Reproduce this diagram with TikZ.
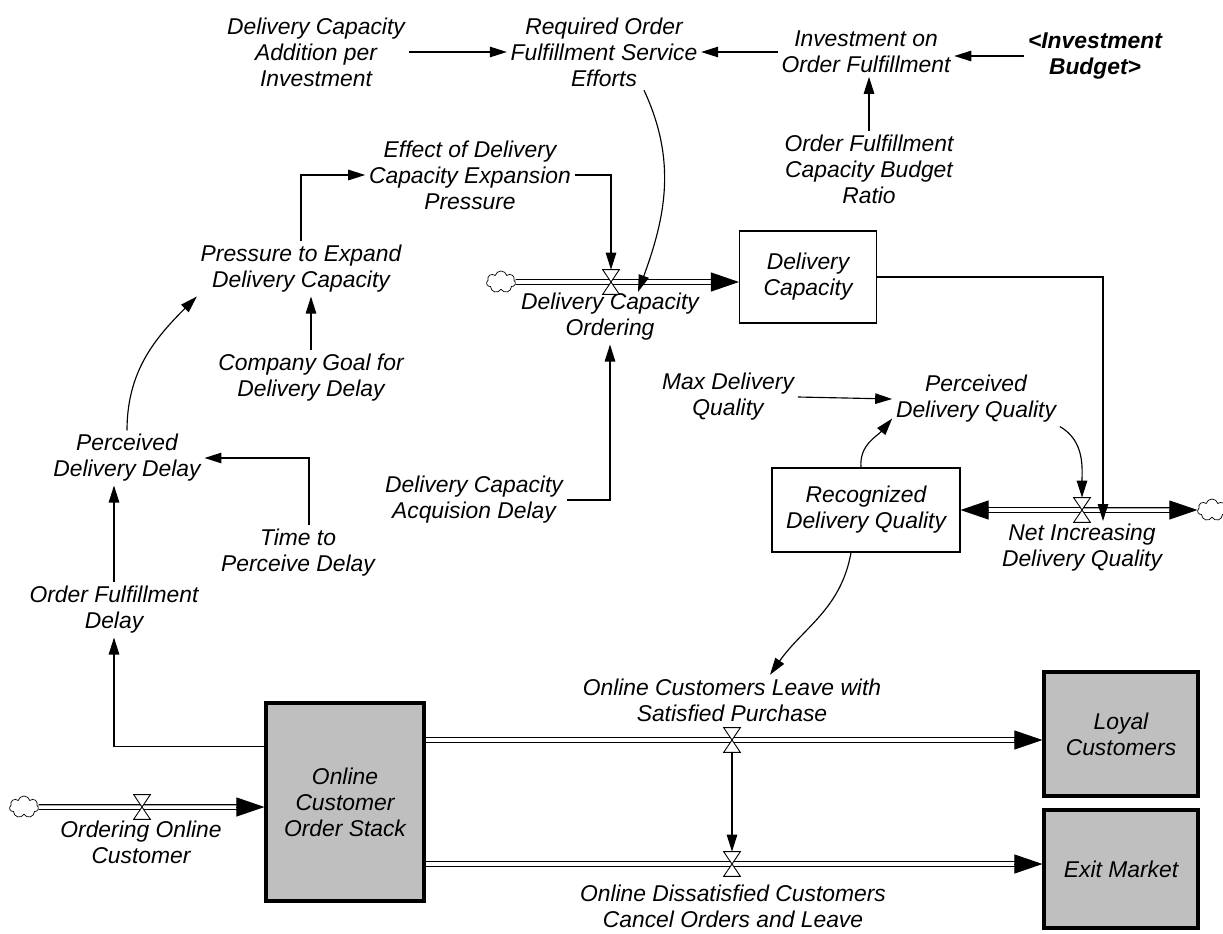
\documentclass[tikz,border=0pt]{standalone}
\usepackage{fontspec}
\setmainfont{Liberation Sans}
\usepackage{tikz}
\usetikzlibrary{arrows.meta,shapes.symbols,calc}

\newcommand\flowpipe[2]{%
	\draw[pipe,shorten >=0.5cm] (#1) -- (#2);
	\draw[pipehead] ($(#2)!0.56cm!(#1)$) -- (#2);}

\begin{document}
\begin{tikzpicture}[x=0.02cm,y=-0.02cm,
	font=\itshape\fontsize{13}{14.8}\selectfont,
	var/.style={align=center,inner sep=2pt},
	link/.style={line width=0.65pt,-{Triangle[length=0.34cm,width=0.21cm]}},
	levelbox/.style={draw,line width=0.65pt,align=center,inner sep=2pt},
	stockbox/.style={levelbox,fill=black!25,line width=1.8pt},
	pipe/.style={double,double distance=2pt,line width=0.65pt},
	pipehead/.style={line width=0.5pt,-{Triangle[length=0.56cm,width=0.38cm]}},
	src/.style={cloud,draw,cloud puffs=7,aspect=1.3,minimum width=0.58cm,minimum height=0.44cm,inner sep=0pt,line width=0.4pt,fill=white},
	valvebox/.style={minimum width=0.32cm,minimum height=0.48cm,inner sep=0pt}]
	\useasboundingbox (0,0) rectangle (1223,933);

	\node[var] (dcapi) at (316,52) {Delivery Capacity\\Addition per\\Investment};
	\node[var] (rofse) at (604,52) {Required Order\\Fulfillment Service\\Efforts};
	\node[var] (ioof) at (866,52) {Investment on\\Order Fulfillment};
	\node[var,font=\bfseries\itshape\fontsize{13}{14.8}\selectfont] (budget) at (1095,56) {<Investment\\Budget>};
	\node[var] (ofcbr) at (869,169) {Order Fulfillment\\Capacity Budget\\Ratio};
	\node[var] (edcep) at (470,175) {Effect of Delivery\\Capacity Expansion\\Pressure};
	\node[var] (pedc) at (301,269) {Pressure to Expand\\Delivery Capacity};
	\node[var] (cgdd) at (311,378) {Company Goal for\\Delivery Delay};
	\node[var] (pdd) at (127,458) {Perceived\\Delivery Delay};
	\node[var] (tpd) at (298,553) {Time to\\Perceive Delay};
	\node[var] (ofd) at (114,610) {Order Fulfillment\\Delay};
	\node[var] (dcad) at (474,500) {Delivery Capacity\\Acquision Delay};
	\node[var] (mdq) at (728,397) {Max Delivery\\Quality};
	\node[var] (pdq) at (976,399) {Perceived\\Delivery Quality};

	\node[levelbox,minimum width=2.74cm,minimum height=1.84cm] (dc) at (808,277) {Delivery\\Capacity};
	\node[levelbox,minimum width=3.76cm,minimum height=1.68cm] (rdq) at (866,510) {Recognized\\Delivery Quality};
	\node[stockbox,minimum width=3.16cm,minimum height=3.96cm] (stack) at (345,802) {Online\\Customer\\Order Stack};
	\node[stockbox,minimum width=3.08cm,minimum height=2.48cm] (loyal) at (1121,734) {Loyal\\Customers};
	\node[stockbox,minimum width=3.08cm,minimum height=2.36cm] (exit) at (1121,869) {Exit Market};

	\node[src] (c1) at (501,282) {};
	\node[src] (c2) at (1212,510) {};
	\node[src] (c3) at (24,807) {};

	\node[valvebox] (dco) at (611,282) {};
	\node[valvebox] (ndq) at (1082,510) {};
	\node[valvebox] (ooc) at (142,807) {};
	\node[valvebox] (ocl) at (732,740) {};
	\node[valvebox] (odc) at (732,864) {};

	\node[var] (dcolab) at (610,317) {Delivery Capacity\\Ordering};
	\node[var] (ndqlab) at (1082,548) {Net Increasing\\Delivery Quality};
	\node[var] (ooclab) at (141,842) {Ordering Online\\Customer};
	\node[var] (ocllab) at (732,700) {Online Customers Leave with\\Satisfied Purchase};
	\node[var] (odclab) at (733,906) {Online Dissatisfied Customers\\Cancel Orders and Leave};

	\flowpipe{c1}{c1 -| dc.west}
	\flowpipe{ndq.center}{rdq.east}
	\flowpipe{ndq.center}{c2.west}
	\flowpipe{c3}{c3 -| stack.west}
	\flowpipe{stack.east |- ocl}{ocl -| loyal.west}
	\flowpipe{stack.east |- odc}{odc -| exit.west}
	\foreach \v in {dco,ndq,ooc,ocl,odc}
		\draw[fill=white,line width=0.5pt] (\v.north west) -- (\v.north east) -- (\v.south west) -- (\v.south east) -- cycle;

	\draw[link] (dcapi.east) -- (rofse.west);
	\draw[link] (ioof.west) -- (rofse.east);
	\draw[link] (budget.west) -- (budget.west -| ioof.east);
	\draw[link] (ofcbr.north) -- (ofcbr.north |- ioof.south);
	\draw[link] ($(rofse.south)+(40,0)$) to[out=-65,in=70] ($(dco)+(27,10)$);
	\draw[link] (edcep.east) -| (dco.north);
	\draw[link] (pedc.north) |- (edcep.west);
	\draw[link] (cgdd.north) -- (cgdd.north |- pedc.south);
	\draw[link] (pdd.north) to[out=90,in=-135] (pedc.south west);
	\draw[link] ($(tpd.north)+(11,0)$) |- (pdd.east);
	\draw[link] (ofd.north) -- (ofd.north |- pdd.south);
	\draw[link] ($(stack.north west)+(0,45)$) -| (ofd.south);
	\draw[link] (dcad.east) -| (dcolab.south);
	\draw[link] (dc.east) -| ($(ndq)+(21,11)$);
	\draw[link] (mdq.east) -- (pdq.west);
	\draw[link] ($(rdq.north)+(-5,0)$) to[out=95,in=-130] ($(pdq.south west)+(0,-8)$);
	\draw[link] (pdq.south east) to[out=-30,in=90] (ndq.north);
	\draw[link] ($(rdq.south)+(-15,0)$) to[out=-100,in=55] ($(ocllab.north)+(38,0)$);
	\draw[link] (ocl.south) -- (odc.north);
\end{tikzpicture}
\end{document}
